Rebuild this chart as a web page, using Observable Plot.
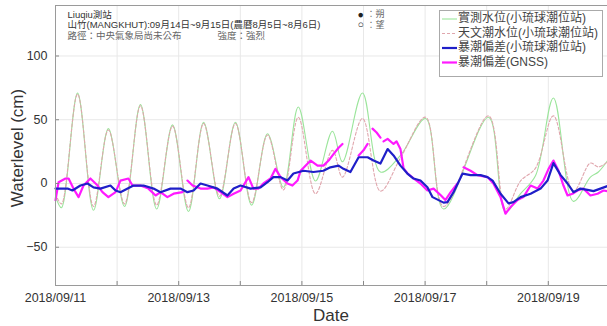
<!DOCTYPE html>
<html><head><meta charset="utf-8">
<script src="https://cdn.jsdelivr.net/npm/d3@7"></script>
<script src="https://cdn.jsdelivr.net/npm/@observablehq/plot@0.6"></script>
<style>
body{margin:0;background:#fff}
#chart{position:relative;width:607px;height:326px;overflow:hidden}
</style>
</head><body><div id="chart"></div>
<script>
// ---- data (hours after 2018-09-11 00:00) ----
const tideHours    = [0,2.3,8.6,14.8,20.6,26.9,33.1,39.4,45.6,51.8,57.7,63.9,70.1,76.4,82.6,88.8,94.6,101.3,107.9,111.8,119.6,126.6,134.4,144.2,151.2,168.7,175.3,181.2,187.0,194.0,201.8,208.4,211.5,215.1];
const observedTide = [-10,-19,71,-21,43,-18,62,-20,46,-22,48,-12,48,-17,39,-3,60,2,41,17,71,9,22,51,-20,52,-22,-8,6,67,-14,5,9,18];
const astroTide    = [-8,-16,70,-18,42,-16,61,-17,45,-19,47,-10,47,-15,38,-5,52,-8,26,5,51,-6,20,52,-18,53,-20,2,12,53,-6,16,13,17];

const stationHours = [0,4.7,6.6,9.7,12.5,14.8,17.5,21.4,23.4,25.3,28.1,30.4,34.3,38.2,40.9,44.8,48.7,51.4,53.8,56.5,59.2,63.1,67.0,69.4,72.1,76.0,79.9,82.6,84.9,87.7,90.4,92.7,96.6,100.5,104.4,107.1,110.3,112.2,114.9,118.1,121.6,123.9,126.6,129.4,131.7,134.4,137.1,139.5,142.2,144.9,146.9,151.2,152.7,155.1,158.6,161.7,165.6,168.3,170.3,173.4,176.5,178.4,181.2,185.1,189.0,191.7,194.0,196.8,199.5,201.8,204.5,207.3,209.6,212.3,215.1];
const surgeStation = [-4,-4,-5.5,-1.6,0,-3,-4,-1.6,-5.5,-6.8,-4,-1.6,-1.6,-4,-6.8,-4,-4,-6.8,-5.5,0,-1.6,-4,-9.4,-4,-1.6,-4,-3,1,5,5,2.3,7.8,10,9,10,12.7,14,11.5,9,20.6,20.6,18,15.6,27,22,14,7.8,3.9,2.3,-2.9,-10.7,-15,-14.6,-6.8,7.8,6.6,6.6,5,2.3,-8,-15.6,-14.6,-10.7,-8,-4,2.3,16,6.6,0,-6.8,-4,-5,-6,-4,-2];

const gnssHours = [0,1.2,3.9,5.1,7.0,9.0,10.9,13.6,16.4,18.3,20.6,23.4,25.3,28.4,30.0,33.1,36.2,39.0,40.9,43.6,46.0,49.5,50.6,51.4,53.4,56.5,59.2,61.6,64.3,67.0,69.4,72.1,75.2,77.1,79.1,81.0,83.8,85.7,87.7,90.4,92.3,94.3,95.5,99.4,102.1,104.4,106.4,108.3,110.3,111.8,114.9,118.1,120.0,121.6,122.7,123.5,125.1,126.6,127.2,127.8,129.4,131.7,132.9,134.4,135.6,137.1,139.5,142.2,144.9,147.3,150.0,151.9,153.9,156.6,157.8,159.0,161.7,164.4,168.3,170.6,173.4,175.3,177.3,180.0,182.3,185.1,187.8,190.1,192.1,194.0,196.0,197.9,199.5,201.4,203.4,205.7,208.4,211.2,213.5,215.1];
const surgeGNSS = [-13,1,3.9,3.9,-4,-10.7,-1.6,3.9,-1.6,-6.8,-10.7,-6.8,2.3,3.9,-1.6,-1.6,-4,-9.4,-6.8,-10.7,-8,-6.8,NaN,2.3,-1.6,-4,-4,-3,-6.8,-10.7,-8,-5.5,5,-4,-4,0,3.9,11.5,5,0,-1.6,2.3,10,18,14,14,18,23,28,31,NaN,22,26,31,NaN,43,40,36,NaN,33,35,31,33,27,12,8,4,0,-5.5,-4,-9,-13,-7,0,NaN,12.7,10,6.6,5,0,-10.7,-23.7,-18.5,-13,-10.7,-1.6,-4,2.3,11.5,18,10,-1.6,-9.4,-8,-5.5,-4,-9.4,-8,-5.5,-6];

const xTickDays   = [0,2,4,6,8];
const xTickLabels = ["2018/09/11","2018/09/13","2018/09/15","2018/09/17","2018/09/19"];
const allDays     = [0,1,2,3,4,5,6,7,8];
const yTicks      = [-50,0,50,100];
const legendLabels = ["實測水位(小琉球潮位站)","天文潮水位(小琉球潮位站)","暴潮偏差(小琉球潮位站)","暴潮偏差(GNSS)"];
const headerLines = ["Liuqiu測站","山竹(MANGKHUT):09月14日~9月15日(農曆8月5日~8月6日)","路徑：中央氣象局尚未公布"];
const intensityText = "強度：強烈";
const moonSymbols = ["●","○"];
const moonText = ["：朔","：望"];

// ---- build ----
const T0 = Date.UTC(2018, 8, 11);
const toDate = h => new Date(T0 + h * 3600e3);
const dayDate = d => new Date(T0 + d * 864e5);
const tideRows = tideHours.map((h, i) => ({t: toDate(h), obs: observedTide[i], ast: astroTide[i]}));
const stRows = stationHours.map((h, i) => ({t: toDate(h), v: surgeStation[i]}));
const gnRows = gnssHours.map((h, i) => ({t: toDate(h), v: surgeGNSS[i]}));
const labelOf = new Map(xTickDays.map((d, i) => [+dayDate(d), xTickLabels[i]]));

const W = 607, H = 326, mT = 5, mB = 41, mL = 55;
const plotH = H - mT - mB, plotW = W - mL;
const font = "'Liberation Sans', Arial, 'Noto Sans CJK TC', sans-serif";

const headerMarks = headerLines.map((line, i) =>
  Plot.text([line], {text: d => d, frameAnchor: "top-left", dx: 12, dy: 9 + i * 10.5, fontSize: 9.5,
    fill: i === 2 ? "#666" : "#333", textAnchor: "start", lineAnchor: "middle"}));
const moonMarks = moonText.flatMap((line, i) => [
  Plot.text([moonSymbols[i]], {text: d => d, frameAnchor: "top-left", dx: 302, dy: 9 + i * 10.5, fontSize: 10.5,
    fill: "#222", textAnchor: "start", lineAnchor: "middle"}),
  Plot.text([line], {text: d => d, frameAnchor: "top-left", dx: 311, dy: 9 + i * 10.5, fontSize: 9,
    fill: "#666", textAnchor: "start", lineAnchor: "middle"})
]);

const svg = Plot.plot({
  width: W, height: H,
  marginTop: mT, marginBottom: mB, marginLeft: mL, marginRight: 0,
  style: {fontFamily: font, background: "#fff", overflow: "hidden"},
  x: {type: "utc", domain: [dayDate(0), dayDate(8.961)]},
  y: {domain: [-80, 139.6]},
  marks: [
    Plot.ruleX(allDays.map(dayDate), {stroke: "#e8e8e8", strokeWidth: 1}),
    Plot.ruleY(yTicks, {stroke: "#e8e8e8", strokeWidth: 1}),
    Plot.line(tideRows, {x: "t", y: "obs", stroke: "#9be59b", strokeWidth: 1.1, curve: "catmull-rom"}),
    Plot.line(tideRows, {x: "t", y: "ast", stroke: "#e0a6ad", strokeWidth: 1.1, strokeDasharray: "3,2", curve: "catmull-rom"}),
    Plot.line(gnRows, {x: "t", y: "v", stroke: "#ff1aff", strokeWidth: 2.2, curve: "linear"}),
    Plot.line(stRows, {x: "t", y: "v", stroke: "#1f1fc8", strokeWidth: 2.2, curve: "linear"}),
    Plot.tickX(allDays.map(dayDate), {x: d => d, insetTop: plotH - 4, stroke: "#888"}),
    Plot.tickY(yTicks, {y: d => d, insetRight: plotW - 4, stroke: "#888"}),
    Plot.frame({stroke: "#9a9a9a", strokeWidth: 1}),
    Plot.axisX(xTickDays.map(dayDate), {tickSize: 0, tickPadding: 8, fontSize: 12.5, fill: "#333", tickFormat: d => labelOf.get(+d), label: null}),
    Plot.axisY(yTicks, {tickSize: 0, tickPadding: 8, fontSize: 12.5, fill: "#333", label: null}),
    ...headerMarks,
    Plot.text([intensityText], {text: d => d, frameAnchor: "top-left", dx: 162, dy: 30, fontSize: 9.5, fill: "#666", textAnchor: "start", lineAnchor: "middle"}),
    ...moonMarks
  ]
});

const g = d3.select(svg).append("g").attr("font-family", font).attr("text-anchor", "start");
// axis titles
g.append("text").attr("transform", "translate(19,148) rotate(-90)").attr("text-anchor", "middle")
  .attr("dominant-baseline", "middle").attr("font-size", 17).attr("fill", "#333").text("Waterlevel (cm)");
g.append("text").attr("x", 331).attr("y", 317).attr("text-anchor", "middle").attr("dominant-baseline", "middle")
  .attr("font-size", 17).attr("fill", "#333").text("Date");

// legend
const lg = g.append("g");
lg.append("rect").attr("x", 439.5).attr("y", 10.5).attr("width", 163).attr("height", 66)
  .attr("fill", "#fff").attr("stroke", "#aaa");
const styles = [
  {stroke: "#9be59b", w: 1.1, dash: null},
  {stroke: "#e0a6ad", w: 1.1, dash: "3,2"},
  {stroke: "#1f1fc8", w: 2.2, dash: null},
  {stroke: "#ff1aff", w: 2.2, dash: null}
];
legendLabels.forEach((lab, i) => {
  const y = 19 + i * 14.5;
  lg.append("line").attr("x1", 442).attr("x2", 457).attr("y1", y).attr("y2", y)
    .attr("stroke", styles[i].stroke).attr("stroke-width", styles[i].w)
    .attr("stroke-dasharray", styles[i].dash);
  lg.append("text").attr("x", 458).attr("y", y).attr("dominant-baseline", "middle")
    .attr("text-anchor", "start").attr("font-size", 12).attr("fill", "#444").text(lab);
});

document.getElementById("chart").append(svg);
</script>
</body></html>
